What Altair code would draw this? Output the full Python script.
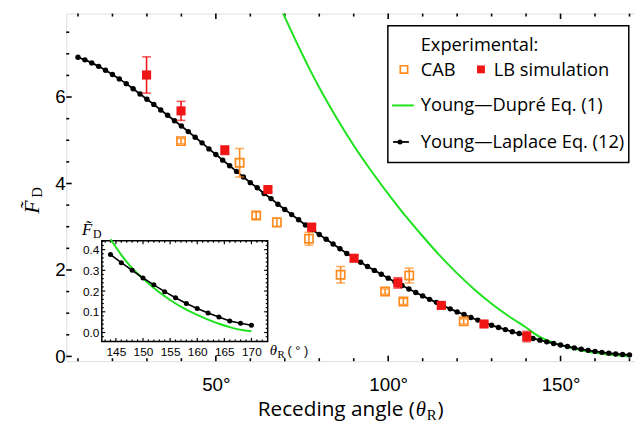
import altair as alt
import pandas as pd

# ---------------- data ----------------
# Young-Laplace Eq. (12): black dotted curve
yl_theta = [10, 12, 14, 16, 18, 20, 22, 24, 26, 28, 30, 32, 34, 36, 38, 40, 42, 44, 46, 48,
            50, 52, 54, 56, 58, 60, 62, 64, 66, 68, 70, 72, 74, 76, 78, 80, 82, 84, 86, 88,
            90, 92, 94, 96, 98, 100, 102, 104, 106, 108, 110, 112, 114, 116, 118, 120, 122,
            124, 126, 128, 130, 132, 134, 136, 138, 140, 142, 144, 146, 148, 150, 152, 154,
            156, 158, 160, 162, 164, 166, 168, 170]
yl_F = [6.92, 6.86, 6.79, 6.71, 6.62, 6.52, 6.42, 6.31, 6.19, 6.07, 5.95, 5.83, 5.70, 5.58,
        5.45, 5.33, 5.20, 5.07, 4.94, 4.80, 4.67, 4.54, 4.41, 4.28, 4.15, 4.02, 3.90, 3.77,
        3.65, 3.52, 3.40, 3.28, 3.16, 3.04, 2.93, 2.82, 2.71, 2.60, 2.49, 2.38, 2.28, 2.18,
        2.08, 1.99, 1.90, 1.81, 1.72, 1.64, 1.56, 1.48, 1.40, 1.32, 1.25, 1.17, 1.10, 1.03,
        0.97, 0.90, 0.84, 0.78, 0.72, 0.67, 0.62, 0.57, 0.53, 0.48, 0.415, 0.376, 0.337,
        0.300, 0.263, 0.230, 0.197, 0.168, 0.140, 0.116, 0.094, 0.075, 0.056, 0.045, 0.035]

# Young-Dupre Eq. (1): green curve
yd_theta = [68, 70, 72.5, 75, 77.5, 80, 85, 90, 95, 100, 105, 110, 115, 120, 125, 130, 135,
            140, 144, 146, 148, 150, 152, 154, 156, 158, 160, 162, 164, 166, 168, 170]
yd_F = [8.2, 7.85, 7.42, 7.0, 6.6, 6.22, 5.52, 4.88, 4.30, 3.76, 3.25, 2.78, 2.33, 1.92, 1.55,
        1.22, 0.93, 0.67, 0.45, 0.375, 0.31, 0.26, 0.215, 0.175, 0.14, 0.11, 0.085, 0.062,
        0.042, 0.026, 0.013, 0.006]

# LB simulation (red filled squares)
lb_theta = [29.9, 39.9, 52.6, 65.1, 77.8, 90.1, 102.8, 115.4, 127.8, 140.2]
lb_F = [6.51, 5.68, 4.77, 3.86, 2.99, 2.27, 1.70, 1.18, 0.75, 0.46]
lb_err = [0.42, 0.22, 0.10, 0.05, 0.08, 0.07, 0.12, 0.07, 0.06, 0.12]

# CAB experiment (orange open squares)
cab_theta = [39.9, 56.9, 61.7, 67.7, 77.0, 86.2, 99.1, 104.4, 106.1, 121.9]
cab_F = [4.98, 4.48, 3.26, 3.10, 2.72, 1.89, 1.50, 1.27, 1.87, 0.81]
cab_err = [0.06, 0.33, 0.08, 0.10, 0.15, 0.19, 0.06, 0.07, 0.17, 0.06]

# tick values
x_major = [50, 100, 150]
x_minor = [10, 20, 30, 40, 60, 70, 80, 90, 110, 120, 130, 140, 160, 170]
y_major = [0, 2, 4, 6]
y_minor = [0.5, 1, 1.5, 2.5, 3, 3.5, 4.5, 5, 5.5, 6.5, 7, 7.5]
ix_major = [145, 150, 155, 160, 165, 170]
ix_minor = [143, 144, 146, 147, 148, 149, 151, 152, 153, 154, 156, 157, 158, 159, 161, 162,
            163, 164, 166, 167, 168, 169, 171, 172]
iy_major = [0.0, 0.1, 0.2, 0.3, 0.4]
iy_minor = [-0.02, 0.02, 0.04, 0.06, 0.08, 0.12, 0.14, 0.16, 0.18, 0.22, 0.24, 0.26, 0.28,
            0.32, 0.34, 0.36, 0.38, 0.42, 0.44]

# ---------------- layout ----------------
W, H = 576, 352
IX0, IX1, IY0, IY1 = 36, 204, 230, 332   # inset box inside plot (px)

GREEN = "#1de21d"
BLACK = "#000000"
ORANGE = "#ff8a1e"
RED = "#f01616"
SANS = "Open Sans"
SERIF = "Liberation Serif"
NUM = "Liberation Sans"

yl = pd.DataFrame({"theta": yl_theta, "F": yl_F})
yd = pd.DataFrame({"theta": yd_theta, "F": yd_F})
lb = pd.DataFrame({"theta": lb_theta, "F": lb_F, "err": lb_err})
cab = pd.DataFrame({"theta": cab_theta, "F": cab_F, "err": cab_err})
one = pd.DataFrame({"k": [0]})

xs = alt.Scale(domain=[6.6, 171.6], nice=False, zero=False)
ys = alt.Scale(domain=[-0.11, 7.93], nice=False, zero=False)
ax_x = alt.Axis(values=x_major, labelExpr="datum.value + '°'", tickSize=0, domain=False,
                grid=False, title=None, labelFont=NUM, labelFontSize=19, labelPadding=15,
                labelColor="black", labelFlush=False, orient="bottom")
ax_y = alt.Axis(values=y_major, format="d", tickSize=0, domain=False, grid=False, title=None,
                labelFont=NUM, labelFontSize=19, labelPadding=1, labelColor="black",
                labelFlush=False, orient="left")


def MX(f):
    return alt.X(f"{f}:Q", scale=xs, axis=ax_x)


def MY(f):
    return alt.Y(f"{f}:Q", scale=ys, axis=ax_y)


ixs = alt.Scale(domain=[142.4, 173.0], range=[IX0, IX1], nice=False, zero=False)
iys = alt.Scale(domain=[-0.043, 0.443], range=[IY1, IY0], nice=False, zero=False)
iax_x = alt.Axis(values=ix_major, format="d", tickSize=0, domain=False, grid=False, title=None,
                 labelFont=NUM, labelFontSize=12, labelPadding=5, labelColor="black",
                 labelFlush=False, orient="bottom", offset=-(H - IY1))
iax_y = alt.Axis(values=iy_major, format=".1f", tickSize=0, domain=False, grid=False,
                 title=None, labelFont=NUM, labelFontSize=12, labelPadding=3,
                 labelColor="black", labelFlush=False, orient="left", offset=-IX0)


def IX(f):
    return alt.X(f"{f}:Q", scale=ixs, axis=iax_x)


def IY(f):
    return alt.Y(f"{f}:Q", scale=iys, axis=iax_y)


def ticks_df(vals):
    return pd.DataFrame({"v": vals})


def text(t, x, y, font=SANS, size=18.5, align="left", baseline="alphabetic", style="normal",
         angle=0):
    return alt.Chart(one).mark_text(text=t, font=font, fontSize=size, align=align,
                                    baseline=baseline, fontStyle=style, angle=angle,
                                    color="black").encode(x=alt.value(x), y=alt.value(y))


# ---------------- main panel ----------------
main_layers = []
for vals, ln in ((x_major, 5.5), (x_minor, 3)):
    main_layers.append(alt.Chart(ticks_df(vals)).mark_rule(color="black", strokeWidth=1.6)
                       .encode(x=MX("v"), y=alt.value(H), y2=alt.value(H - ln)))
    main_layers.append(alt.Chart(ticks_df(vals)).mark_rule(color="black", strokeWidth=1.6)
                       .encode(x=MX("v"), y=alt.value(0), y2=alt.value(ln)))
for vals, ln in ((y_major, 5.5), (y_minor, 3)):
    main_layers.append(alt.Chart(ticks_df(vals)).mark_rule(color="black", strokeWidth=1.6)
                       .encode(y=MY("v"), x=alt.value(0), x2=alt.value(ln)))

main_layers.append(alt.Chart(yd).mark_line(color=GREEN, strokeWidth=2, clip=True,
                                           interpolate="monotone")
                   .encode(x=MX("theta"), y=MY("F")))
main_layers.append(alt.Chart(yl).mark_line(color=BLACK, strokeWidth=1.8)
                   .encode(x=MX("theta"), y=MY("F")))
main_layers.append(alt.Chart(yl).mark_circle(color=BLACK, size=30, opacity=1)
                   .encode(x=MX("theta"), y=MY("F")))

for df, col, filled in ((cab, ORANGE, False), (lb, RED, True)):
    base = alt.Chart(df).transform_calculate(lo="datum.F - datum.err", hi="datum.F + datum.err")
    main_layers.append(base.mark_rule(color=col, strokeWidth=1.6)
                       .encode(x=MX("theta"), y=MY("lo"), y2="hi:Q"))
    main_layers.append(base.mark_tick(color=col, orient="horizontal", size=9, thickness=1.6)
                       .encode(x=MX("theta"), y=MY("lo")))
    main_layers.append(base.mark_tick(color=col, orient="horizontal", size=9, thickness=1.6)
                       .encode(x=MX("theta"), y=MY("hi")))
    if filled:
        main_layers.append(alt.Chart(df).mark_square(color=col, size=85, opacity=1)
                           .encode(x=MX("theta"), y=MY("F")))
    else:
        main_layers.append(alt.Chart(df).mark_square(filled=False, color=col, size=70,
                                                     strokeWidth=1.7, opacity=1)
                           .encode(x=MX("theta"), y=MY("F")))

# legend box
main_layers.append(alt.Chart(one).mark_rect(fill="white", stroke="black", strokeWidth=1.5)
                   .encode(x=alt.value(325.7), x2=alt.value(569.7), y=alt.value(12.3),
                           y2=alt.value(150.7)))
main_layers.append(text("Experimental:", 359, 37.5))
main_layers.append(alt.Chart(one).mark_square(filled=False, color=ORANGE, size=55,
                                              strokeWidth=1.7, opacity=1)
                   .encode(x=alt.value(342), y=alt.value(56.5)))
main_layers.append(text("CAB", 359, 63))
main_layers.append(alt.Chart(one).mark_square(color=RED, size=64, opacity=1)
                   .encode(x=alt.value(420), y=alt.value(56.5)))
main_layers.append(text("LB simulation", 433, 63))
main_layers.append(alt.Chart(one).mark_rule(color=GREEN, strokeWidth=2)
                   .encode(x=alt.value(330), x2=alt.value(352), y=alt.value(93)))
main_layers.append(text("Young—Dupré Eq. (1)", 359, 99))
main_layers.append(alt.Chart(one).mark_rule(color=BLACK, strokeWidth=1.8)
                   .encode(x=alt.value(331), x2=alt.value(347), y=alt.value(130)))
main_layers.append(alt.Chart(one).mark_circle(color=BLACK, size=26, opacity=1)
                   .encode(x=alt.value(338), y=alt.value(130)))
main_layers.append(text("Young—Laplace Eq. (12)", 359, 136))

# axis titles
main_layers.append(text("Receding angle (", 353, 408, size=21, align="right"))
main_layers.append(text("θ", 354, 408, font=SERIF, size=21, style="italic"))
main_layers.append(text("R", 365, 412, font=SERIF, size=15))
main_layers.append(text(")", 376, 408, size=21))
main_layers.append(text("F̃", -28, 196, font=SERIF, size=22, style="italic", align="center",
                        angle=270))
main_layers.append(text("D", -25, 181, font=SERIF, size=15, align="center", angle=270))

main = alt.layer(*main_layers)

# ---------------- inset ----------------
yl_in = yl[yl.theta >= 144]
yd_in = yd[yd.theta >= 144]
inset_layers = [
    alt.Chart(one).mark_rect(fill="white", stroke="black", strokeWidth=1.5)
    .encode(x=alt.value(IX0), x2=alt.value(IX1), y=alt.value(IY0), y2=alt.value(IY1)),
]
for vals, ln in ((ix_major, 3.5), (ix_minor, 2)):
    inset_layers.append(alt.Chart(ticks_df(vals)).mark_rule(color="black", strokeWidth=1.2)
                        .encode(x=IX("v"), y=alt.value(IY1), y2=alt.value(IY1 - ln)))
    inset_layers.append(alt.Chart(ticks_df(vals)).mark_rule(color="black", strokeWidth=1.2)
                        .encode(x=IX("v"), y=alt.value(IY0), y2=alt.value(IY0 + ln)))
for vals, ln in ((iy_major, 3.5), (iy_minor, 2)):
    inset_layers.append(alt.Chart(ticks_df(vals)).mark_rule(color="black", strokeWidth=1.2)
                        .encode(y=IY("v"), x=alt.value(IX0), x2=alt.value(IX0 + ln)))
    inset_layers.append(alt.Chart(ticks_df(vals)).mark_rule(color="black", strokeWidth=1.2)
                        .encode(y=IY("v"), x=alt.value(IX1), x2=alt.value(IX1 - ln)))
inset_layers += [
    alt.Chart(yd_in).mark_line(color=GREEN, strokeWidth=2, interpolate="monotone")
    .encode(x=IX("theta"), y=IY("F")),
    alt.Chart(yl_in).mark_line(color=BLACK, strokeWidth=1.6).encode(x=IX("theta"), y=IY("F")),
    alt.Chart(yl_in).mark_circle(color=BLACK, size=26, opacity=1)
    .encode(x=IX("theta"), y=IY("F")),
    text("F̃", 16, 224, font=SERIF, size=17, style="italic"),
    text("D", 27, 227, font=SERIF, size=12),
    text("θ", 206, 346, font=SERIF, size=15, style="italic"),
    text("R", 214, 349, font=SERIF, size=11),
    text("( ° )", 224, 346, font=NUM, size=13),
]
inset = alt.layer(*inset_layers)

chart = (
    alt.layer(main, inset)
    .resolve_scale(x="independent", y="independent")
    .resolve_axis(x="independent", y="independent")
    .properties(width=W, height=H,
                autosize=alt.AutoSizeParams(type="none"),
                padding={"left": 59, "top": 3, "right": 0, "bottom": 64})
    .configure_view(stroke="black", strokeWidth=2)
    .configure(background="white")
)

chart.save("out.html", embed_options={"renderer": "svg", "actions": False})
